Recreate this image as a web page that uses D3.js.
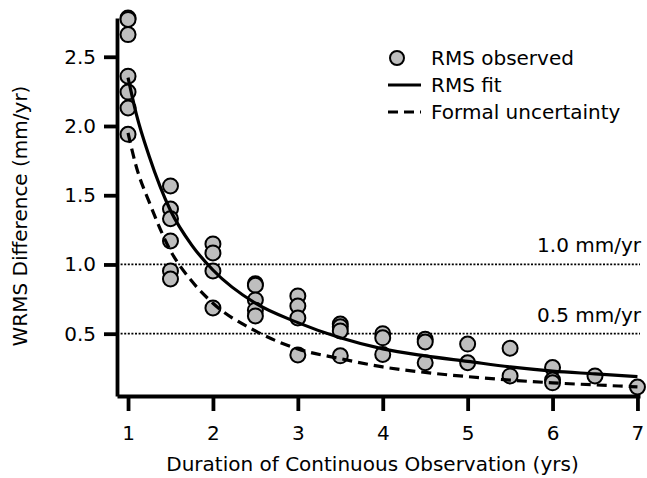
<!DOCTYPE html>
<html>
<head>
<meta charset="utf-8">
<script src="https://cdn.jsdelivr.net/npm/d3@7"></script>
<style>
  body { margin: 0; background: #fff; }
  text { font-family: "DejaVu Sans", sans-serif; fill: #000; }
</style>
</head>
<body>
<svg id="chart" width="647" height="478"></svg>
<script>
// observed RMS points (duration in yrs, WRMS in mm/yr)
const obsYears = [1, 1, 1, 1, 1, 1, 1,
  1.5, 1.5, 1.5, 1.5, 1.5, 1.5,
  2, 2, 2, 2,
  2.5, 2.5, 2.5, 2.5, 2.5,
  3, 3, 3, 3,
  3.5, 3.5, 3.5, 3.5,
  4, 4, 4,
  4.5, 4.5, 4.5,
  5, 5,
  5.5, 5.5,
  6, 6, 6,
  6.5,
  7]
const obsRms = [2.78, 2.77, 2.66, 2.36, 2.245, 2.13, 1.94,
  1.567, 1.40, 1.33, 1.17, 0.953, 0.895,
  1.148, 1.083, 0.953, 0.686,
  0.86, 0.85, 0.744, 0.67, 0.628,
  0.773, 0.70, 0.614, 0.347,
  0.57, 0.55, 0.52, 0.34,
  0.50, 0.47, 0.35,
  0.46, 0.44, 0.29,
  0.425, 0.29,
  0.395, 0.195,
  0.255, 0.165, 0.145,
  0.195,
  0.115]

// curves
const fitYears  = [1, 1.1, 1.25, 1.5, 1.75, 2, 2.5, 3, 3.5, 4, 4.5, 5, 5.5, 6, 6.5, 7]
const fitRms    = [2.35, 2.08, 1.78, 1.39, 1.14, 0.96, 0.72, 0.58, 0.47, 0.39, 0.34, 0.30, 0.26, 0.23, 0.21, 0.19]
const formalRms = [1.95, 1.70, 1.45, 1.10, 0.88, 0.72, 0.52, 0.39, 0.32, 0.26, 0.22, 0.19, 0.165, 0.145, 0.13, 0.116]

const xTicks = [1, 2, 3, 4, 5, 6, 7]
const yTicks = [0.5, 1.0, 1.5, 2.0, 2.5]
const refLines = [1.0, 0.5]
const refLabels = ['1.0 mm/yr', '0.5 mm/yr']
const legendLabels = ['RMS observed', 'RMS fit', 'Formal uncertainty']

const svg = d3.select('#chart')
const fontSize = 20

const x = d3.scaleLinear().domain([0.87, 7.03]).range([117, 640])
const y = d3.scaleLinear().domain([0.05, 2.78]).range([396, 18])

// reference dotted lines
svg.selectAll('.ref')
  .data(refLines)
  .enter()
  .append('line')
  .attr('x1', x.range()[0])
  .attr('x2', x.range()[1])
  .attr('y1', d => y(d))
  .attr('y2', d => y(d))
  .attr('stroke', '#000')
  .attr('stroke-width', 1.8)
  .attr('stroke-dasharray', '2,1.6')

svg.selectAll('.refLabel')
  .data(refLines)
  .enter()
  .append('text')
  .attr('x', 641)
  .attr('y', d => y(d) - 12)
  .attr('text-anchor', 'end')
  .style('font-size', fontSize + 'px')
  .text((d, i) => refLabels[i])

// axes
svg.append('g')
  .attr('transform', 'translate(0,' + y.range()[0] + ')')
  .call(d3.axisBottom(x).tickValues(xTicks).tickFormat(d3.format('d')).tickSize(15).tickSizeOuter(0).tickPadding(15))
svg.append('g')
  .attr('transform', 'translate(' + x.range()[0] + ',0)')
  .call(d3.axisLeft(y).tickValues(yTicks).tickFormat(d3.format('.1f')).tickSize(13).tickSizeOuter(0).tickPadding(8))

svg.selectAll('.domain, .tick line')
  .attr('stroke', '#000')
  .attr('stroke-width', 3.8)
svg.selectAll('.tick text')
  .style('font-size', fontSize + 'px')
  .style('font-family', '"DejaVu Sans", sans-serif')
  .attr('fill', '#000')

svg.append('text')
  .attr('x', (x.range()[0] + x.range()[1]) / 2 - 6)
  .attr('y', 471)
  .attr('text-anchor', 'middle')
  .style('font-size', fontSize + 'px')
  .text('Duration of Continuous Observation (yrs)')

svg.append('text')
  .attr('transform', 'translate(27,' + 216 + ') rotate(-90)')
  .attr('text-anchor', 'middle')
  .style('font-size', fontSize + 'px')
  .text('WRMS Difference (mm/yr)')

// observed points
svg.selectAll('.obs')
  .data(obsYears)
  .enter()
  .append('circle')
  .attr('cx', d => x(d))
  .attr('cy', (d, i) => y(obsRms[i]))
  .attr('r', 7.5)
  .attr('fill', '#bebebe')
  .attr('stroke', '#000')
  .attr('stroke-width', 2)

// curves
const line = (vals) => d3.line()
  .x((d, i) => x(fitYears[i]))
  .y(d => y(d))
  .curve(d3.curveMonotoneX)(vals)

svg.append('path')
  .attr('d', line(fitRms))
  .attr('fill', 'none')
  .attr('stroke', '#000')
  .attr('stroke-width', 3.2)

svg.append('path')
  .attr('d', line(formalRms))
  .attr('fill', 'none')
  .attr('stroke', '#000')
  .attr('stroke-width', 3.2)
  .attr('stroke-dasharray', '10,6')

// legend
const legend = svg.append('g').attr('transform', 'translate(388,58)')
legend.append('circle')
  .attr('cx', 9).attr('cy', 0).attr('r', 7)
  .attr('fill', '#bebebe').attr('stroke', '#000').attr('stroke-width', 2)
legend.append('line')
  .attr('x1', 0).attr('x2', 33).attr('y1', 27).attr('y2', 27)
  .attr('stroke', '#000').attr('stroke-width', 3.2)
legend.append('line')
  .attr('x1', 0).attr('x2', 33).attr('y1', 54).attr('y2', 54)
  .attr('stroke', '#000').attr('stroke-width', 3.2)
  .attr('stroke-dasharray', '10,6')
legend.selectAll('.lab')
  .data(legendLabels)
  .enter()
  .append('text')
  .attr('x', 43)
  .attr('y', (d, i) => i * 27)
  .attr('dy', '0.35em')
  .style('font-size', fontSize + 'px')
  .text(d => d)
</script>
</body>
</html>
